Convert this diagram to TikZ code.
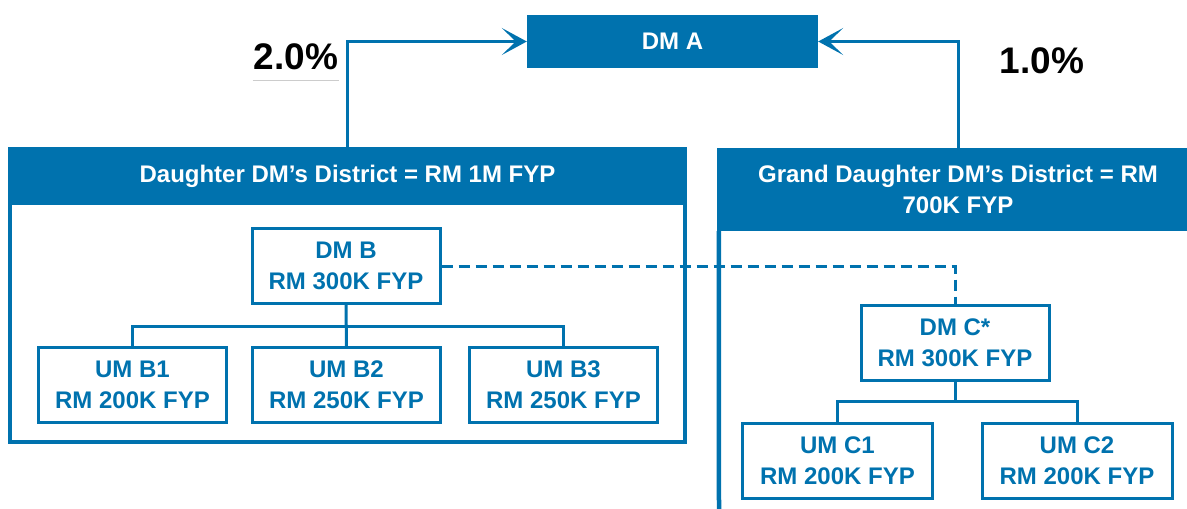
\documentclass[tikz,border=0pt]{standalone}
\usepackage{fontspec}
\setmainfont{Liberation Sans}
\usetikzlibrary{arrows.meta,positioning}
\definecolor{dmblue}{RGB}{0,114,174}

\begin{document}
\begin{tikzpicture}[x=1pt,y=-1pt,>={Stealth[length=25pt,width=27pt,inset=14pt]},
  font=\bfseries\fontsize{24}{31}\selectfont,
  head/.style={fill=dmblue,text=white,align=center,inner sep=0pt},
  mgr/.style={draw=dmblue,line width=3pt,text=dmblue,align=center,minimum width=188pt,minimum height=75pt,inner sep=0pt},
  pct/.style={font=\bfseries\fontsize{37}{37}\selectfont},
  link/.style={dmblue,line width=3pt}]
\useasboundingbox (0,0) rectangle (1187,509);
\node[head,minimum width=291pt,minimum height=53pt] (dma) at (672.5,41.5) {DM A};
\node[head,minimum width=679pt,minimum height=58pt] (lhead) at (347.5,176) {Daughter DM’s District = RM 1M FYP};
\draw[dmblue,line width=4pt] (lhead.south west) ++(2pt,0) |- (685,442) -- (685,205);
\node[head,minimum width=482pt,minimum height=83pt] (rhead) at (958,189.5) {Grand Daughter DM’s District = RM\\700K FYP};
\draw[dmblue,line width=4.5pt] (rhead.south west) ++(2pt,0) -- (719,509);
\draw[link,->] (lhead.north) |- (dma.west);
\draw[link,->] (rhead.north) |- (dma.east);
\node[pct,inner xsep=1pt,inner ysep=10pt] (pct2) at (296,57) {2.0\%};
\draw[black!20,line width=1.5pt] (pct2.south west) -- (pct2.south east);
\node[pct] (pct1) at (1042,61) {1.0\%};
\node[mgr] (dmb) at (346,266) {DM B\\RM 300K FYP};
\foreach \x/\n/\v in {132.5/1/200,346.5/2/250,563.5/3/250}
  \node[mgr] (umb\n) at (\x,385) {UM B\n\\RM \v K FYP};
\draw[link] (dmb) -- (umb2);
\draw[link] (umb1.north) -- ++(0,-20) -| (umb3.north);
\node[mgr] (dmc) at (955,342.5) {DM C*\\RM 300K FYP};
\foreach \x/\n in {837.5/1,1077/2}
  \node[mgr,minimum width=190pt] (umc\n) at (\x,461) {UM C\n\\RM 200K FYP};
\draw[link] (dmc.south) -- ++(0,20) coordinate (cfork);
\draw[link] (umc1.north) |- (cfork) -| (umc2.north);
\draw[link,dash pattern=on 11pt off 6pt] (dmb.east) -| (dmc.north);
\end{tikzpicture}
\end{document}
